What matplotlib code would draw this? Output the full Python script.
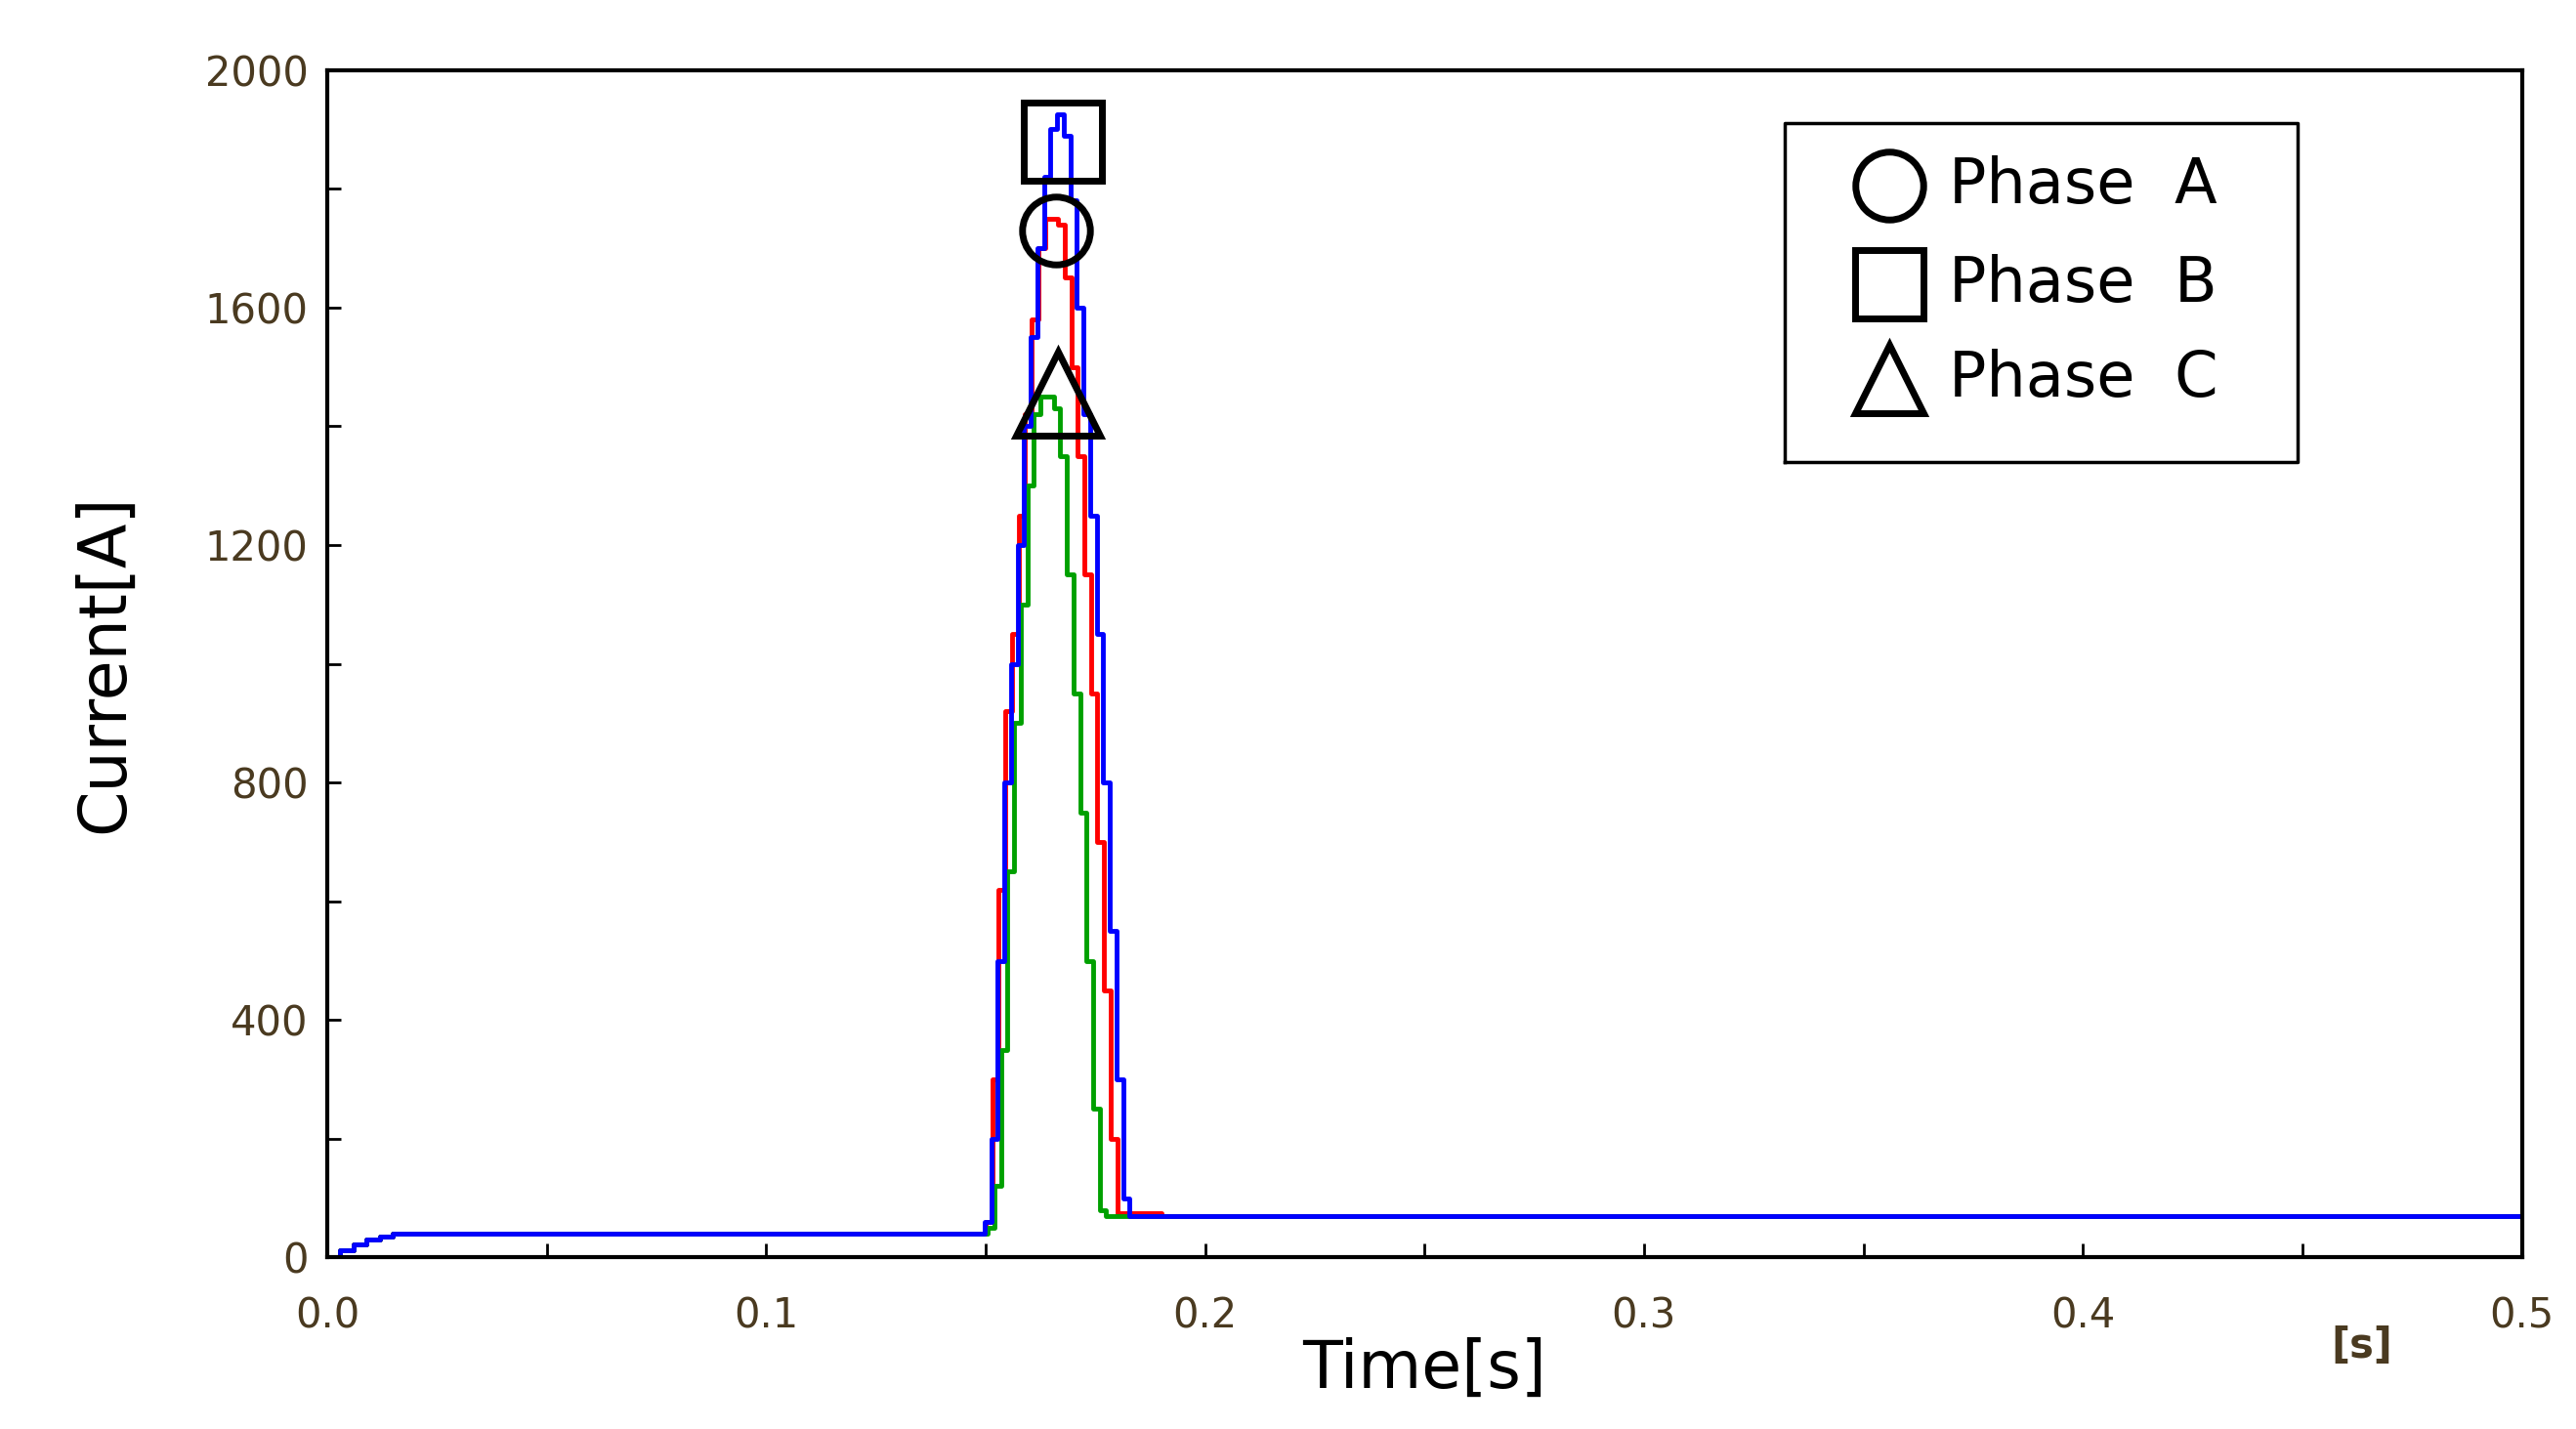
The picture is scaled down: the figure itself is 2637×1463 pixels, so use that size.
import numpy as np
import matplotlib.pyplot as plt

# stepped samples
t_start = [0.0, 0.003, 0.006, 0.009, 0.012, 0.015, 0.03, 0.1495]
i_start = [0, 12, 22, 30, 36, 40, 40, 40]

t_peak = [0.150, 0.1515, 0.153, 0.1545, 0.156, 0.1575, 0.159, 0.1605, 0.162, 0.1635,
          0.165, 0.1665, 0.168, 0.1695, 0.171, 0.1725, 0.174, 0.1755, 0.177, 0.1785,
          0.180, 0.1815, 0.183]
i_a = [60, 300, 620, 920, 1050, 1250, 1420, 1580, 1700, 1750, 1750, 1740, 1650, 1500,
       1350, 1150, 950, 700, 450, 200, 75, 75, 75]
i_b = [60, 200, 500, 800, 1000, 1200, 1400, 1550, 1700, 1820, 1900, 1925, 1890, 1780,
       1600, 1420, 1250, 1050, 800, 550, 300, 100, 70]
i_c = [50, 120, 350, 650, 900, 1100, 1300, 1420, 1450, 1450, 1430, 1350, 1150, 950,
       750, 500, 250, 80, 70, 70, 70, 70, 70]
t_end = [0.19, 0.5]
i_end = [70, 70]

series = [(i_a, 'red', 0.0), (i_c, '#00a000', 0.0005), (i_b, 'blue', -0.0002)]

fig = plt.figure(figsize=(26.37, 14.63), dpi=100)
ax = fig.add_axes([0.127, 0.12, 0.852, 0.831])
for vals, col, dt in series:
    t = t_start + [x + dt for x in t_peak] + t_end
    y = i_start + vals + i_end
    ax.step(t, y, where='post', color=col, lw=3.5)

# peak markers
ax.plot(0.1675, 1880, 's', ms=58, mfc='none', mec='black', mew=5)
ax.plot(0.166, 1730, 'o', ms=50, mfc='none', mec='black', mew=5)
ax.plot(0.1665, 1455, '^', ms=62, mfc='none', mec='black', mew=5)

ax.set_xlim(0, 0.5)
ax.set_ylim(0, 2000)
ax.set_xticks([0.0, 0.1, 0.2, 0.3, 0.4, 0.5])
ax.set_xticks(np.arange(0, 0.5, 0.05), minor=True)
ax.set_yticks([0, 400, 800, 1200, 1600, 2000])
ax.set_yticks(np.arange(0, 2000, 200), minor=True)
tc = '#4a3a20'
ax.tick_params(axis='both', which='major', labelsize=30, length=10, width=2, colors='black',
               labelcolor=tc, direction='in')
ax.tick_params(axis='x', which='major', pad=28)
ax.tick_params(axis='y', which='major', pad=14)
ax.tick_params(axis='both', which='minor', length=10, width=2, direction='in')
for s in ax.spines.values():
    s.set_linewidth(3)
ax.text(0.4635, -115, '[s]', fontsize=30, fontweight='bold', color=tc, ha='center', va='top')
ax.set_xlabel('Time[s]', fontsize=48, labelpad=0)
ax.set_ylabel('Current[A]', fontsize=48, labelpad=50)

# legend drawn as a box with markers
lx0, lx1, ly0, ly1 = 0.332, 0.449, 1340, 1910
ax.plot([lx0, lx1, lx1, lx0, lx0], [ly0, ly0, ly1, ly1, ly0], color='black', lw=2.5)
for y, m, name in [(1805, 'o', 'Phase  A'), (1640, 's', 'Phase  B'), (1480, '^', 'Phase  C')]:
    ax.plot(0.3558, y, m, ms=50, mfc='none', mec='black', mew=5)
    ax.text(0.3695, y, name, fontsize=46, va='center')

fig.savefig('out.png', dpi=100)
